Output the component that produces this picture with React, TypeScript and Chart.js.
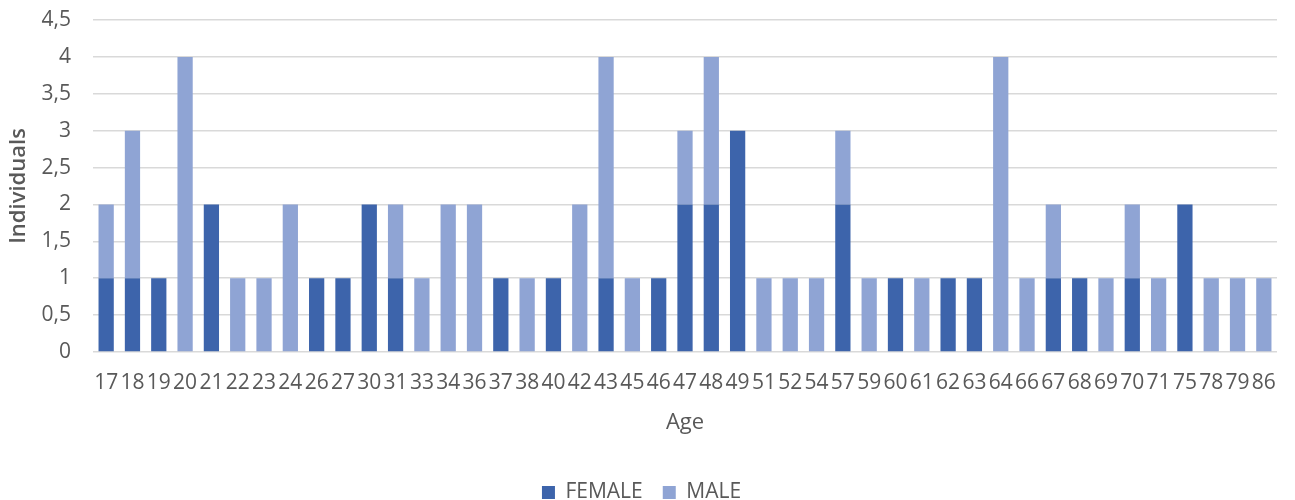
import React, { useEffect, useRef } from 'react';
import { Chart, registerables } from 'chart.js';

Chart.register(...registerables);

const ages = ['17','18','19','20','21','22','23','24','26','27','30','31','33','34','36','37','38','40','42','43','45','46','47','48','49','51','52','54','57','59','60','61','62','63','64','66','67','68','69','70','71','75','78','79','86'];
const female = [1,1,1,0,2,0,0,0,1,1,2,1,0,0,0,1,0,1,0,1,0,1,2,2,3,0,0,0,2,0,1,0,1,1,0,0,1,1,0,1,0,2,0,0,0];
const male =   [1,2,0,4,0,1,1,2,0,0,0,1,1,2,2,0,1,0,2,3,1,0,1,2,0,1,1,1,1,1,0,1,0,0,4,1,1,0,1,1,1,0,1,1,1];

const yMax = 4.5;
const yStep = 0.5;

const FONT = "'Open Sans', 'Liberation Sans', sans-serif";
const TEXT = '#595959';

export default function App() {
  const ref = useRef<HTMLCanvasElement | null>(null);
  useEffect(() => {
    document.body.style.margin = '0';
    const ctx = ref.current;
    if (!ctx) return;
    const chart = new Chart(ctx, {
      type: 'bar',
      data: {
        labels: ages,
        datasets: [
          { label: 'FEMALE', data: female, backgroundColor: '#3D64AB', borderWidth: 0, barPercentage: 0.58, categoryPercentage: 1 },
          { label: 'MALE', data: male, backgroundColor: '#8FA4D4', borderWidth: 0, barPercentage: 0.58, categoryPercentage: 1 },
        ],
      },
      options: {
        animation: false,
        responsive: false,
        maintainAspectRatio: false,
        layout: { padding: { left: 6, right: 18, top: 20, bottom: -13 } },
        font: { family: FONT },
        plugins: {
          legend: {
            position: 'bottom',
            labels: {
              boxWidth: 13,
              boxHeight: 13,
              padding: 20,
              color: TEXT,
              font: { family: FONT, size: 21 },
            },
          },
          tooltip: { enabled: false },
        },
        scales: {
          x: {
            stacked: true,
            grid: { display: false, drawTicks: false },
            border: { display: false },
            ticks: {
              autoSkip: false,
              maxRotation: 0,
              minRotation: 0,
              padding: 18,
              color: TEXT,
              font: { family: FONT, size: 21 },
            },
            title: {
              display: true,
              text: 'Age',
              color: TEXT,
              font: { family: FONT, size: 22 },
              padding: { top: 0, bottom: 26 },
            },
            afterFit: (scale: any) => { scale.height = 110; },
          },
          y: {
            stacked: true,
            min: 0,
            max: yMax,
            grid: { color: '#D9D9D9', lineWidth: 1.5, drawTicks: false },
            border: { display: false },
            ticks: {
              stepSize: yStep,
              padding: 22,
              color: TEXT,
              font: { family: FONT, size: 21 },
              callback: (v: any) => String(v).replace('.', ','),
            },
            title: {
              display: true,
              text: 'Individuals',
              color: TEXT,
              font: { family: FONT, size: 22, weight: '600' },
              padding: 0,
            },
            afterFit: (scale: any) => {
              scale.width = 87;
              scale.paddingTop = 0;
              scale.paddingBottom = 0;
            },
          },
        },
      },
    });
    return () => chart.destroy();
  }, []);
  return (
    <div style={{ width: 1295, height: 500, background: '#fff' }}>
      <canvas ref={ref} width={1295} height={500} style={{ display: 'block' }} />
    </div>
  );
}
